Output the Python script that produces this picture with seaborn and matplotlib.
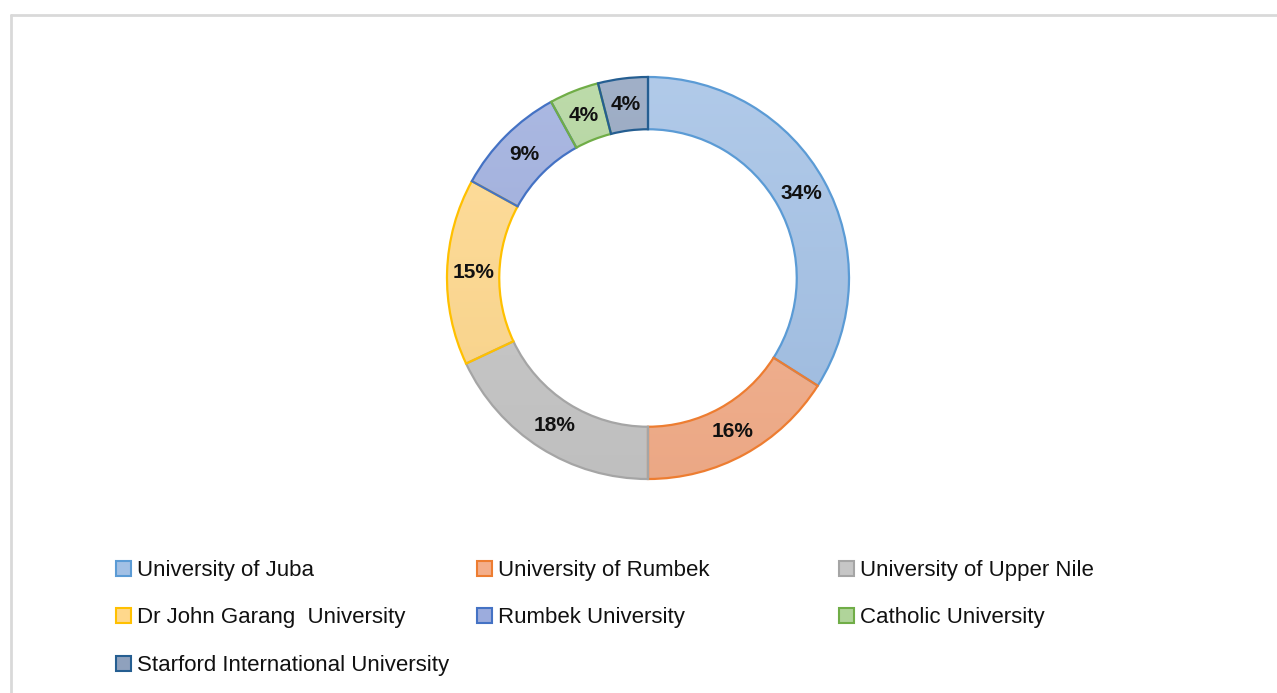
import numpy as np
import matplotlib
matplotlib.use("Agg")
import matplotlib.pyplot as plt
import seaborn as sns
from matplotlib.patches import Patch, Wedge
from matplotlib.lines import Line2D
from matplotlib.colors import to_rgb

# data
universities = ["University of Juba", "University of Rumbek", "University of Upper Nile",
                "Dr John Garang  University", "Rumbek University", "Catholic University",
                "Starford International University"]
shares = [34, 16, 18, 15, 9, 4, 4]

edge_cols = ["#5B9BD5", "#ED7D31", "#A5A5A5", "#FFC000", "#4472C4", "#70AD47", "#255E91"]
fill_cols = ["#A2C0E5", "#F4AE8A", "#C6C6C6", "#FFD88C", "#9CACDD", "#B0D49A", "#8FA1BD"]

sns.set_theme(style="white")
plt.rcParams["font.family"] = ["Liberation Sans", "DejaVu Sans"]

fig = plt.figure(figsize=(12.77, 6.93), dpi=100)
W, H = 1277, 693

# outer frame (chart area border)
fig.add_artist(Line2D([11 / W, 1.0], [1 - 15 / H, 1 - 15 / H], color="#D9D9D9", lw=2))
fig.add_artist(Line2D([11 / W, 11 / W], [0, 1 - 15 / H], color="#D9D9D9", lw=2))

cx, cy, r = 648, 278, 201
ax = fig.add_axes([(cx - r) / W, 1 - (cy + r) / H, 2 * r / W, 2 * r / H])

wedges, _ = ax.pie(shares, startangle=90, counterclock=False, radius=1,
                   colors=fill_cols,
                   wedgeprops=dict(width=0.26, linewidth=0))

# soft vertical gradient inside each slice, then the coloured outline on top
yy = np.linspace(1, 0, 256)[:, None]
for w, f, ec in zip(wedges, fill_cols, edge_cols):
    base = np.array(to_rgb(f))
    top = base + (1 - base) * 0.16
    bot = base * 0.965
    grad = top[None, None, :] * yy[..., None] + bot[None, None, :] * (1 - yy[..., None])
    grad = np.repeat(grad, 2, axis=1)
    im = ax.imshow(grad, extent=(-1, 1, -1, 1), origin="upper", zorder=1.5,
                   interpolation="bilinear", aspect="auto")
    im.set_clip_path(w)
    outline = Wedge(w.center, w.r, w.theta1, w.theta2, width=w.width,
                    facecolor="none", edgecolor=ec, linewidth=1.6, zorder=2, clip_on=False)
    ax.add_patch(outline)

ax.set_xlim(-1, 1)
ax.set_ylim(-1, 1)
ax.set_aspect("equal")
ax.axis("off")

# percentage labels in the middle of the ring
mid_r = 0.87
total = sum(shares)
start = 90.0
for v in shares:
    ang = np.deg2rad(start - 360 * v / total / 2)
    ax.text(mid_r * np.cos(ang), mid_r * np.sin(ang), f"{v}%", ha="center", va="center",
            fontsize=15, fontweight="bold", color="#111111", zorder=3)
    start -= 360 * v / total

# legend, three columns placed like the original
handles = [Patch(facecolor=f, edgecolor=e, linewidth=1.5) for f, e in zip(fill_cols, edge_cols)]
col_x = [116, 477, 839]
row_top = 560
cols = [[0, 3, 6], [1, 4], [2, 5]]
for x, idx in zip(col_x, cols):
    fig.legend([handles[i] for i in idx], [universities[i] for i in idx],
               loc="upper left", bbox_to_anchor=(x / W, 1 - row_top / H),
               frameon=False, fontsize=16, handlelength=0.66, handleheight=0.66,
               handletextpad=0.28, labelspacing=1.19, borderpad=0, borderaxespad=0,
               labelcolor="#111111")

fig.savefig("out.png", dpi=100)
